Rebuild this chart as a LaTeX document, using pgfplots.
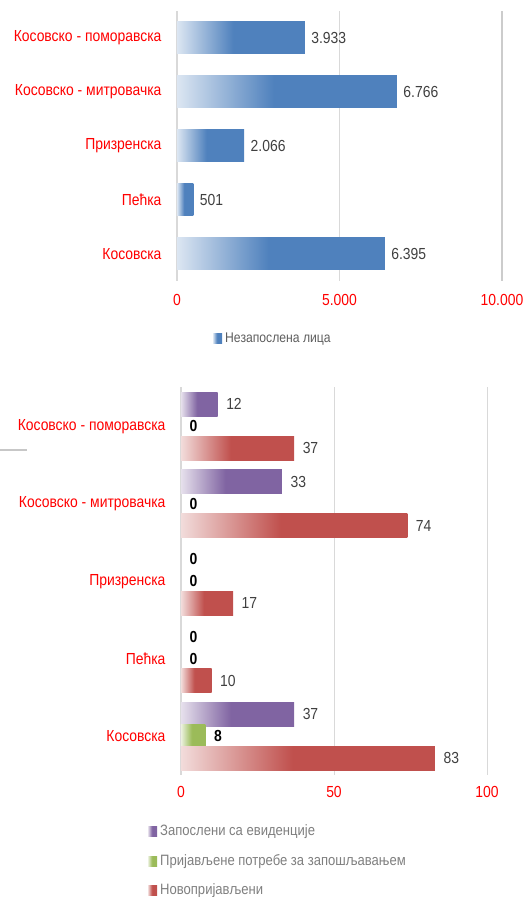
\documentclass[border=0pt]{standalone}
\usepackage{fontspec}
\setmainfont{Liberation Sans}[FakeStretch=0.87]
\usepackage{pgfplots}
\pgfplotsset{compat=1.18}

\definecolor{blueD}{HTML}{4F81BD}
\definecolor{blueL}{HTML}{DCE6F2}
\definecolor{purpleD}{HTML}{8064A2}
\definecolor{purpleL}{HTML}{E6E0EC}
\definecolor{greenD}{HTML}{9BBB59}
\definecolor{greenL}{HTML}{EBF1DE}
\definecolor{redD}{HTML}{C0504D}
\definecolor{redL}{HTML}{F2DCDB}
\definecolor{numgray}{HTML}{404040}
\definecolor{leggray}{HTML}{7F7F7F}
\definecolor{gridgray}{HTML}{D9D9D9}

% light at the left end, full colour from about 45% of the bar on
\pgfdeclarehorizontalshading{blueshade}{100bp}{color(0bp)=(blueL); color(25bp)=(blueL); color(47bp)=(blueD); color(100bp)=(blueD)}
\pgfdeclarehorizontalshading{purpleshade}{100bp}{color(0bp)=(purpleL); color(25bp)=(purpleL); color(47bp)=(purpleD); color(100bp)=(purpleD)}
\pgfdeclarehorizontalshading{greenshade}{100bp}{color(0bp)=(greenL); color(25bp)=(greenL); color(47bp)=(greenD); color(100bp)=(greenD)}
\pgfdeclarehorizontalshading{redshade}{100bp}{color(0bp)=(redL); color(25bp)=(redL); color(47bp)=(redD); color(100bp)=(redD)}

\newcommand{\lbl}{\fontsize{16}{19}\selectfont}
\newcommand{\leg}{\fontsize{15}{18}\selectfont}

\pgfplotsset{
  kosovo/.style={
    scale only axis, anchor=south west,
    xbar, ymin=-0.5, ymax=4.5,
    ytick={0,...,4},
    yticklabels={Косовска, Пећка, Призренска, Косовско - митровачка, Косовско - поморавска},
    axis y line*=left, axis x line*=bottom,
    x axis line style={draw=none},
    y axis line style={draw=gridgray, line width=2.5pt},
    xmajorgrids, grid style={gridgray, line width=1pt},
    major tick length=0pt,
    scaled x ticks=false,
    /pgf/number format/1000 sep={.},
    /pgf/number format/assume math mode=true,
    xticklabel style={text=red, font=\lbl},
    yticklabel style={text=red, font=\lbl, anchor=east, xshift=-12pt},
    nodes near coords,
    nodes near coords style={font=\lbl, text=numgray},
  },
  % one plot per bar, so that every bar gets its own gradient
  bl/.style={draw=none, shading=blueshade, bar shift=0pt},
  pu/.style={draw=none, shading=purpleshade, bar shift=22pt},
  gr/.style={draw=none, shading=greenshade, bar shift=0pt,
    nodes near coords style={text=black, font=\lbl\bfseries}},
  rd/.style={draw=none, shading=redshade, bar shift=-22pt},
  zero/.style={draw=none, fill=none, bar shift=#1,
    nodes near coords style={text=black, font=\lbl\bfseries}},
}

\begin{document}
\begin{tikzpicture}
% top: unemployed persons
\begin{axis}[kosovo,
  at={(177pt,616pt)}, width=325pt, height=270pt,
  xmin=0, xmax=10000, xtick={0,5000,10000},
  extra x ticks={10000}, extra x tick labels={},
  extra x tick style={grid style={black!20, line width=2pt}},
  bar width=32pt,
  xticklabel style={yshift=-10pt},
  nodes near coords style={xshift=3pt},
]
\addplot[bl] coordinates {(6395,0)};
\addplot[bl] coordinates {(501,1)};
\addplot[bl] coordinates {(2066,2)};
\addplot[bl] coordinates {(6766,3)};
\addplot[bl] coordinates {(3933,4)};
\end{axis}
\shade[shading=blueshade] (213pt,553pt) rectangle (222pt,563pt);
\node[anchor=west, inner sep=0pt, text=numgray!85, font=\fontsize{14}{17}\selectfont] at (225pt,558pt) {Незапослена лица};

% bottom: three series
\begin{axis}[kosovo,
  at={(181pt,122pt)}, width=306pt, height=387.5pt,
  xmin=0, xmax=100, xtick={0,50,100},
  bar width=24pt,
  xticklabel style={yshift=-8pt},
  nodes near coords style={xshift=5pt},
]
% Запослени са евиденције
\addplot[pu] coordinates {(37,0)};
\addplot[zero=22pt] coordinates {(0,1) (0,2)};
\addplot[pu] coordinates {(33,3)};
\addplot[pu] coordinates {(12,4)};
% Пријављене потребе за запошљавањем
\addplot[gr] coordinates {(8,0)};
\addplot[zero=0pt] coordinates {(0,1) (0,2) (0,3) (0,4)};
% Новопријављени
\addplot[rd] coordinates {(83,0)};
\addplot[rd] coordinates {(10,1)};
\addplot[rd] coordinates {(17,2)};
\addplot[rd] coordinates {(74,3)};
\addplot[rd] coordinates {(37,4)};
\end{axis}
\draw[gridgray!80!gray, line width=1.5pt] (0pt,447pt) -- (27pt,447pt);

\foreach \y/\s/\t in {65/purpleshade/Запослени са евиденције,
                      35/greenshade/Пријављене потребе за запошљавањем,
                      6/redshade/Новопријављени} {
  \shade[shading=\s] (148pt,\y pt-5pt) rectangle (157pt,\y pt+5pt);
  \node[anchor=west, inner sep=0pt, text=leggray, font=\leg] at (160pt,\y pt) {\t};
}
\pgfresetboundingbox
\useasboundingbox (0pt,0pt) rectangle (528pt,897pt);
\end{tikzpicture}
\end{document}
